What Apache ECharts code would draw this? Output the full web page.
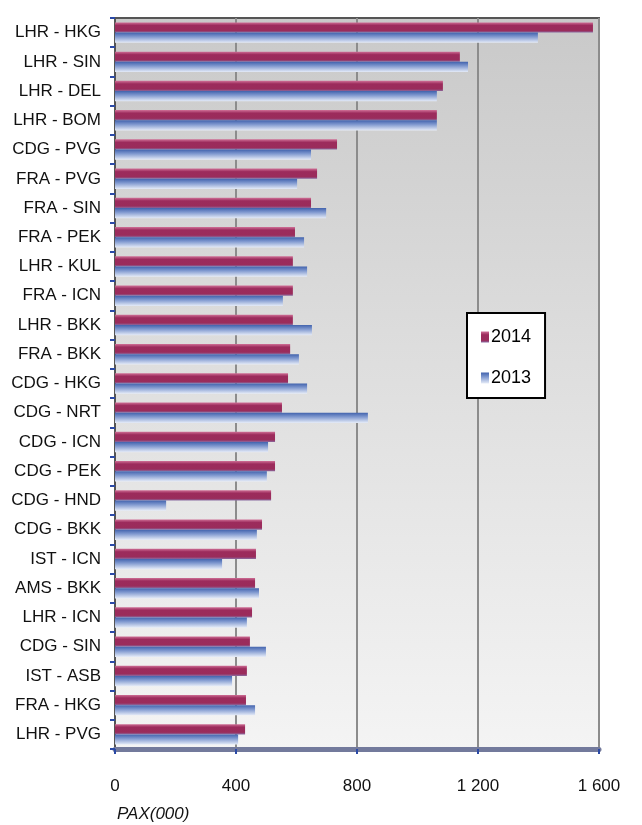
<!DOCTYPE html>
<html>
<head>
<meta charset="utf-8">
<script src="https://cdn.jsdelivr.net/npm/echarts@6/dist/echarts.min.js"></script>
<style>
  html, body { margin: 0; padding: 0; background: #fff; }
  #chart { width: 642px; height: 825px; }
</style>
</head>
<body>
<div id="chart"></div>
<script>
// routes, top to bottom
const routes = [
  'LHR - HKG', 'LHR - SIN', 'LHR - DEL', 'LHR - BOM', 'CDG - PVG',
  'FRA - PVG', 'FRA - SIN', 'FRA - PEK', 'LHR - KUL', 'FRA - ICN',
  'LHR - BKK', 'FRA - BKK', 'CDG - HKG', 'CDG - NRT', 'CDG - ICN',
  'CDG - PEK', 'CDG - HND', 'CDG - BKK', 'IST - ICN', 'AMS - BKK',
  'LHR - ICN', 'CDG - SIN', 'IST - ASB', 'FRA - HKG', 'LHR - PVG'
]
// PAX (000)
const pax2014 = [
  1580, 1140, 1084, 1064, 734,
  668, 648, 595, 588, 588,
  588, 579, 572, 552, 529,
  529, 516, 486, 466, 463,
  453, 446, 436, 433, 430
]
const pax2013 = [
  1398, 1167, 1064, 1064, 648,
  602, 698, 625, 635, 555,
  651, 608, 635, 836, 506,
  502, 169, 469, 354, 476,
  436, 499, 387, 463, 407
]
const xTicks = [0, 400, 800, 1200, 1600]

const chart = echarts.init(document.getElementById('chart'))

// 柱子的渐变色
const redFill = new echarts.graphic.LinearGradient(0, 0, 0, 1, [
  { offset: 0, color: '#cf6f96' },
  { offset: 0.3, color: '#9c2b5c' },
  { offset: 0.8, color: '#9a2c5b' },
  { offset: 1, color: '#8a6aa0' }
])
const blueFill = new echarts.graphic.LinearGradient(0, 0, 0, 1, [
  { offset: 0, color: '#4263ad' },
  { offset: 0.4, color: '#7f98cf' },
  { offset: 1, color: '#e6ecf8' }
])

chart.setOption({
  animation: false,
  textStyle: { fontFamily: 'Liberation Sans, Arial, sans-serif' },
  title: {
    text: 'PAX(000)',
    left: 112,
    top: 801,
    textStyle: { fontSize: 17, fontStyle: 'italic', fontWeight: 'normal', color: '#111' }
  },
  legend: {
    data: ['2014', '2013'],
    orient: 'vertical',
    left: 467,
    top: 313,
    padding: [15, 14, 11, 14],
    itemGap: 23,
    itemWidth: 8,
    itemHeight: 11,
    icon: 'rect',
    backgroundColor: '#fff',
    borderColor: '#000',
    borderWidth: 2,
    textStyle: { fontSize: 18, color: '#000', padding: [0, 0, 0, -3] }
  },
  grid: {
    left: 115,
    right: 43,
    top: 18,
    height: 731,
    show: true,
    backgroundColor: new echarts.graphic.LinearGradient(0, 0, 0, 1, [
      { offset: 0, color: '#c9c9c9' },
      { offset: 0.45, color: '#dddddd' },
      { offset: 1, color: '#f4f4f4' }
    ]),
    borderColor: '#555',
    borderWidth: 2
  },
  xAxis: {
    type: 'value',
    min: 0,
    max: 1600,
    interval: 400,
    axisLine: { show: true, lineStyle: { color: '#737a9c', width: 5 } },
    axisTick: { show: true, length: 5, lineStyle: { color: '#2b4aa6', width: 2 } },
    axisLabel: {
      fontSize: 17,
      color: '#111',
      margin: 29,
      formatter: v => xTicks.indexOf(v) >= 0 ? String(v).replace(/\B(?=(\d{3})+(?!\d))/g, ' ') : ''
    },
    splitLine: { show: true, lineStyle: { color: '#8c8c8c', width: 2 } }
  },
  yAxis: {
    type: 'category',
    inverse: true,
    data: routes,
    axisLine: { show: true, lineStyle: { color: '#555', width: 2 } },
    axisTick: { show: true, length: 5, lineStyle: { color: '#2b4aa6', width: 2 } },
    axisLabel: { fontSize: 17, color: '#111', margin: 14, padding: [9, 0, 0, 0] }
  },
  series: [
    {
      name: '2014',
      type: 'bar',
      data: pax2014,
      barGap: '0%',
      barCategoryGap: '30%',
      itemStyle: { color: redFill }
    },
    {
      name: '2013',
      type: 'bar',
      data: pax2013,
      itemStyle: { color: blueFill }
    }
  ]
})
</script>
</body>
</html>
